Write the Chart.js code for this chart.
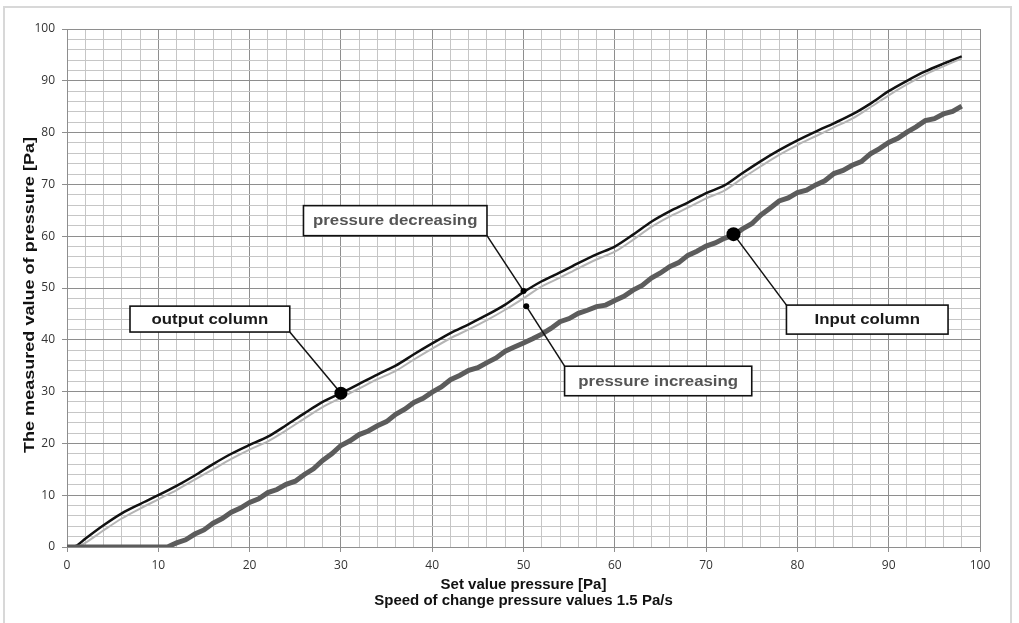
<!DOCTYPE html>
<html>
<head>
<meta charset="utf-8">
<script src="https://cdn.jsdelivr.net/npm/chart.js@4/dist/chart.umd.min.js"></script>
<style>
  html, body { margin: 0; padding: 0; background: #fff; overflow: hidden; }
  #wrap  { position: relative; width: 1019px; height: 623px; }
  #frame { position: absolute; left: 3px; top: 6px; width: 1009px; height: 640px;
           border: 2px solid #d8d8d8; box-sizing: border-box; pointer-events: none; }
  canvas { position: absolute; left: 0; top: 0; }
</style>
</head>
<body>
<div id="wrap">
  <canvas id="chart" width="1019" height="623"></canvas>
  <div id="frame"></div>
</div>
<script>
// ---- data ----

// set value pressure [Pa], shared by both output column curves
const SET_X = [0,1,2,4,6,8,10,12,14,16,18,20,22,24,26,28,30,32,34,36,38,40,42,44,46,48,
               50,52,54,56,58,60,62,64,66,68,70,72,74,76,78,80,82,84,86,88,90,92,94,96,98];

// output column, pressure decreasing (black)
const OUT_DECREASING = [0,0.2,1.6,4.2,6.5,8.3,10,11.8,13.8,16,18,19.7,21.3,23.5,25.8,28,29.7,31.5,33.3,35,37.2,39.3,41.3,43,44.8,46.8,
                        49.2,51.3,53,54.8,56.5,58,60.3,62.8,64.8,66.5,68.3,69.8,72.2,74.5,76.6,78.5,80.2,81.8,83.5,85.6,88,90,91.8,93.3,94.7];

// output column, pressure increasing (light grey)
const OUT_INCREASING = [0,0,0.8,3.2,5.5,7.4,9.2,11,13,15,17,18.8,20.4,22.5,24.8,27,28.8,30.6,32.4,34,36.2,38.3,40.3,42,43.8,45.8,
                        48,50.3,52,53.8,55.5,57,59.3,61.8,63.8,65.5,67.3,68.8,71.2,73.5,75.7,77.6,79.3,81,82.7,84.9,87.2,89.3,91.2,92.8,94.3];

// input column (noisy dark grey trace)
const IN_X = [0,5,10,11,12,13,14,15,16,17,18,19,20,21,22,23,24,25,26,27,28,29,30,31,32,33,34,35,36,37,38,39,40,
              41,42,43,44,45,46,47,48,49,50,51,52,53,54,55,56,57,58,59,60,61,62,63,64,65,66,67,68,69,70,
              71,72,73,74,75,76,77,78,79,80,81,82,83,84,85,86,87,88,89,90,91,92,93,94,95,96,97,98];
const IN_VALUES = [0,0,0,0,0.8,1.4,2.5,3.3,4.6,5.5,6.7,7.5,8.6,9.3,10.5,11.1,12.1,12.7,14.0,15.1,16.7,18.0,19.6,20.5,21.7,22.4,23.4,24.2,25.6,26.6,27.9,28.7,29.9,
                   30.9,32.3,33.1,34.1,34.6,35.6,36.5,37.8,38.6,39.4,40.2,41.1,42.2,43.5,44.1,45.1,45.7,46.4,46.7,47.6,48.4,49.6,50.5,51.9,52.9,54.1,54.9,56.3,57.1,58.1,
                   58.7,59.6,60.2,61.4,62.4,64.1,65.4,66.8,67.4,68.4,68.9,69.9,70.7,72.1,72.7,73.7,74.4,75.9,76.9,78.1,78.9,80.1,81.1,82.3,82.7,83.6,84.1,85.1];

const AXIS_TICKS = { min: 0, max: 100, step: 2, labelEvery: 10 };

const X_TITLE = ['Set value pressure [Pa]', 'Speed of change pressure values 1.5 Pa/s'];
const Y_TITLE = 'The measured value of pressure [Pa]';

// ---- callouts (box corners and anchor in data units) ----
const CALLOUTS = [
  { text: 'output column',       box: [6.9, 46.5, 24.4, 41.5],  from: [24.4, 41.5], to: [30, 29.7], r: 6.5, color: '#1a1a1a' },
  { text: 'pressure decreasing', box: [25.9, 65.9, 46.0, 60.1], from: [46.0, 60.1], to: [50, 49.4], r: 3,   color: '#555' },
  { text: 'pressure increasing', box: [54.5, 34.9, 75.0, 29.2], from: [54.5, 34.9], to: [50.3, 46.5], r: 3, color: '#555' },
  { text: 'Input column',        box: [78.8, 46.7, 96.5, 41.1], from: [78.8, 46.7], to: [73, 60.4], r: 7,   color: '#1a1a1a' },
];

const calloutPlugin = {
  id: 'callouts',
  afterDatasetsDraw(chart) {
    const { ctx, scales: { x, y } } = chart;
    ctx.save();
    for (const c of CALLOUTS) {
      const [x1, y1, x2, y2] = c.box;
      const bx = x.getPixelForValue(x1), by = y.getPixelForValue(y1);
      const bw = x.getPixelForValue(x2) - bx, bh = y.getPixelForValue(y2) - by;

      // leader line
      ctx.strokeStyle = '#111';
      ctx.lineWidth = 1.5;
      ctx.beginPath();
      ctx.moveTo(x.getPixelForValue(c.from[0]), y.getPixelForValue(c.from[1]));
      ctx.lineTo(x.getPixelForValue(c.to[0]), y.getPixelForValue(c.to[1]));
      ctx.stroke();

      // anchor dot
      ctx.fillStyle = '#000';
      ctx.beginPath();
      ctx.arc(x.getPixelForValue(c.to[0]), y.getPixelForValue(c.to[1]), c.r, 0, Math.PI * 2);
      ctx.fill();

      // box
      ctx.fillStyle = '#fff';
      ctx.fillRect(bx, by, bw, bh);
      ctx.lineWidth = 1.6;
      ctx.strokeRect(bx, by, bw, bh);

      // label, a bit wider than the font to match the source
      ctx.save();
      ctx.translate(bx + bw / 2, by + bh / 2 + 0.5);
      ctx.scale(1.12, 1);
      ctx.fillStyle = c.color;
      ctx.font = 'bold 15px "Liberation Sans", Arial, sans-serif';
      ctx.textAlign = 'center';
      ctx.textBaseline = 'middle';
      ctx.fillText(c.text, 0, 0);
      ctx.restore();
    }
    ctx.restore();
  },
};

// y title drawn by hand: the source text is stretched along its length
const yTitlePlugin = {
  id: 'yTitle',
  afterDraw(chart) {
    const { ctx, chartArea } = chart;
    ctx.save();
    ctx.font = 'bold 14px "Liberation Sans", Arial, sans-serif';
    const w = ctx.measureText(Y_TITLE).width;
    ctx.translate(30, (chartArea.top + chartArea.bottom) / 2 + 7);
    ctx.rotate(-Math.PI / 2);
    ctx.scale(316 / w, 1);
    ctx.fillStyle = '#111';
    ctx.textAlign = 'center';
    ctx.textBaseline = 'middle';
    ctx.fillText(Y_TITLE, 0, 0);
    ctx.restore();
  },
};

const bgPlugin = {
  id: 'bg',
  beforeDraw(chart) {
    const { ctx, width, height } = chart;
    ctx.save();
    ctx.fillStyle = '#fff';
    ctx.fillRect(0, 0, width, height);
    ctx.restore();
  },
};

const toPts = (xs, ys) => xs.map((v, i) => ({ x: v, y: ys[i] }));
const isMajor = v => v % AXIS_TICKS.labelEvery === 0;

function axis(extra) {
  return Object.assign({
    type: 'linear',
    min: AXIS_TICKS.min,
    max: AXIS_TICKS.max,
    ticks: {
      stepSize: AXIS_TICKS.step,
      autoSkip: false,
      maxRotation: 0,
      padding: 7,
      color: '#333',
      font: { family: 'Open Sans', size: 12 },
      callback: v => (isMajor(v) ? v : ''),
    },
    grid: {
      color: c => (isMajor(c.tick.value) ? '#8e8e8e' : '#c6c6c6'),
      tickColor: c => (isMajor(c.tick.value) ? '#8e8e8e' : 'rgba(0,0,0,0)'),
      tickLength: 5,
      lineWidth: 1,
    },
    border: { color: '#8e8e8e' },
  }, extra);
}

const xAxis = axis({
  position: 'bottom',
  afterFit: s => { s.height = 76; },
  title: {
    display: true,
    text: X_TITLE,
    color: '#111',
    padding: { top: 0, bottom: 14 },
    font: { family: 'Liberation Sans', size: 15, weight: 'bold', lineHeight: '16px' },
  },
});
xAxis.ticks.padding = 6;

const yAxis = axis({
  position: 'left',
  afterFit: s => { s.width = 67; },
});

new Chart(document.getElementById('chart'), {
  type: 'line',
  data: {
    datasets: [
      {
        label: 'Input column',
        data: toPts(IN_X, IN_VALUES),
        borderColor: '#5c5c5c',
        borderWidth: 5,
        pointRadius: 0,
        tension: 0,
      },
      {
        label: 'pressure increasing',
        data: toPts(SET_X, OUT_INCREASING),
        borderColor: '#b4b4b4',
        borderWidth: 2,
        pointRadius: 0,
        tension: 0.3,
      },
      {
        label: 'pressure decreasing',
        data: toPts(SET_X, OUT_DECREASING),
        borderColor: '#111',
        borderWidth: 2.5,
        pointRadius: 0,
        tension: 0.3,
      },
    ],
  },
  options: {
    responsive: false,
    animation: false,
    layout: { padding: { left: 0, top: 29, right: 39, bottom: 0 } },
    plugins: {
      legend:  { display: false },
      tooltip: { enabled: false },
    },
    scales: { x: xAxis, y: yAxis },
  },
  plugins: [bgPlugin, calloutPlugin, yTitlePlugin],
});
</script>
</body>
</html>
